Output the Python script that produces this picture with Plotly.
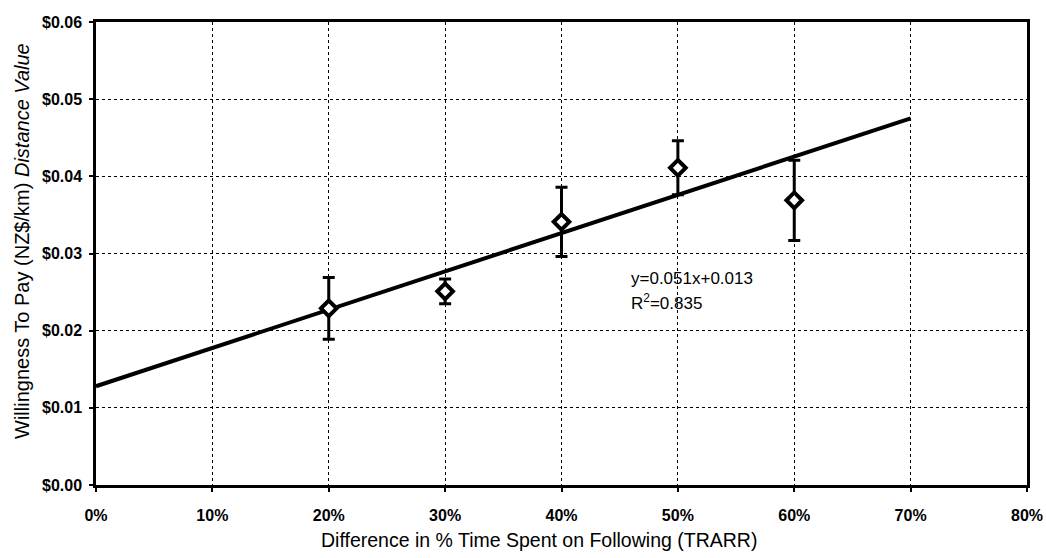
import plotly.graph_objects as go

# Data
diff_pct = [0.20, 0.30, 0.40, 0.50, 0.60]
wtp = [0.0229, 0.0251, 0.0341, 0.0411, 0.0369]
wtp_err = [0.0040, 0.0016, 0.0045, 0.0035, 0.0052]

trend_x = [0.0, 0.70]
trend_slope = 0.0496
trend_intercept = 0.0128
trend_y = [trend_slope * x + trend_intercept for x in trend_x]

eq_text = "y=0.051x+0.013"
r2_text = "R<sup>2</sup>=0.835"

x_ticks = [0, 0.1, 0.2, 0.3, 0.4, 0.5, 0.6, 0.7, 0.8]
y_ticks = [0, 0.01, 0.02, 0.03, 0.04, 0.05, 0.06]

x_title = "Difference in % Time Spent on Following (TRARR)"
y_title = "Willingness To Pay (NZ$/km) <i>Distance Value</i>"

FONT = "Liberation Sans, Arial, sans-serif"

fig = go.Figure()

fig.add_trace(go.Scatter(
    x=trend_x, y=trend_y, mode="lines",
    line=dict(color="black", width=4),
    showlegend=False, hoverinfo="skip",
))

fig.add_trace(go.Scatter(
    x=diff_pct, y=wtp, mode="markers",
    marker=dict(symbol="diamond", size=12, color="white",
                line=dict(color="black", width=4)),
    error_y=dict(type="data", array=wtp_err, visible=True,
                 color="black", thickness=3, width=6),
    showlegend=False,
))

fig.add_annotation(
    x=0.458, y=0.0267, xref="x", yref="y", text=eq_text,
    showarrow=False, xanchor="left", yanchor="middle",
    font=dict(family=FONT, size=17, color="black"),
)
fig.add_annotation(
    x=0.458, y=0.0237, xref="x", yref="y", text=r2_text,
    showarrow=False, xanchor="left", yanchor="middle",
    font=dict(family=FONT, size=17, color="black"),
)

fig.add_annotation(
    x=0.476, y=(485 - 540) / (485 - 22), xref="paper", yref="paper",
    text=x_title, showarrow=False, xanchor="center", yanchor="middle",
    font=dict(family=FONT, size=19.5, color="black"),
)
fig.add_annotation(
    x=-0.0795, y=0.527, xref="paper", yref="paper",
    text=y_title, showarrow=False, textangle=-90,
    xanchor="center", yanchor="middle",
    font=dict(family=FONT, size=20, color="black"),
)

fig.update_layout(
    width=1046, height=558,
    margin=dict(l=96, r=19, t=22, b=73, autoexpand=False),
    paper_bgcolor="white", plot_bgcolor="white",
    font=dict(family=FONT, color="black"),
)

fig.update_xaxes(
    range=[0, 0.8], tickvals=x_ticks, tickformat=".0%",
    tickfont=dict(family=FONT, size=16, color="black", weight="bold"),
    showgrid=True, gridcolor="black", gridwidth=1, griddash="dot",
    showline=True, linecolor="black", linewidth=2.5, mirror=True,
    ticks="outside", ticklen=4, tickcolor="black", tickwidth=1.5,
    zeroline=False, ticklabelstandoff=10, automargin=False,
)
fig.update_yaxes(
    range=[0, 0.06], tickvals=y_ticks, tickformat="$.2f",
    tickfont=dict(family=FONT, size=16, color="black", weight="bold"),
    showgrid=True, gridcolor="black", gridwidth=1, griddash="dot",
    showline=True, linecolor="black", linewidth=2.5, mirror=True,
    ticks="outside", ticklen=4, tickcolor="black", tickwidth=1.5,
    zeroline=False, automargin=False, ticklabelstandoff=4,
)

fig.write_html(
    "out.html",
    config={"displayModeBar": False},
    post_script="document.body.style.margin='0';document.body.style.padding='0';",
)
